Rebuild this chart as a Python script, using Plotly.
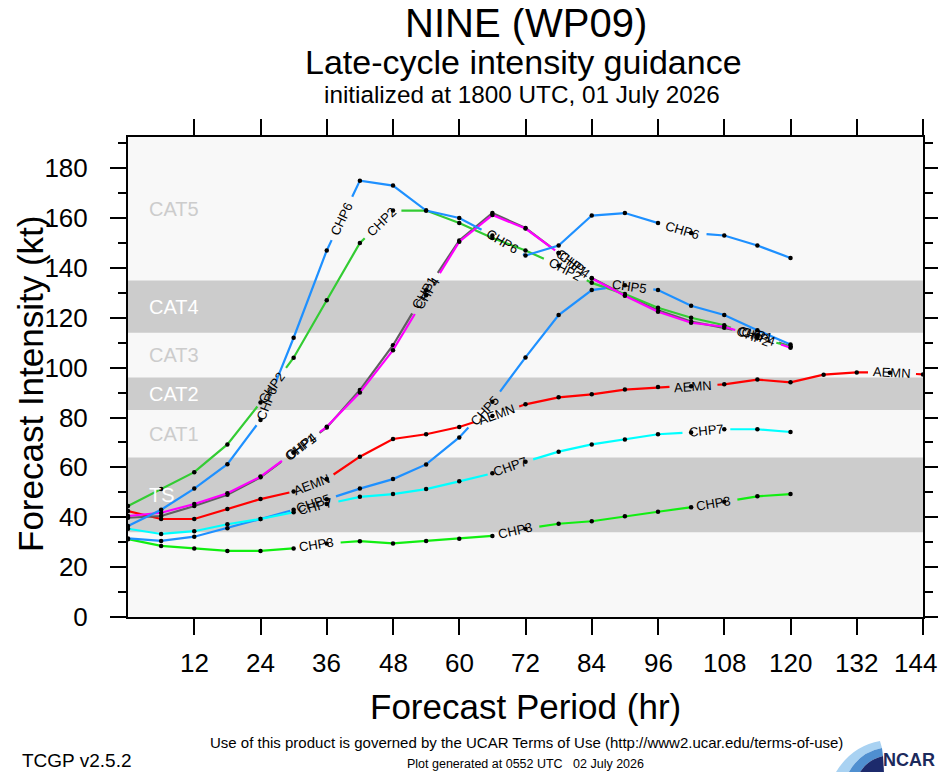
import math
import plotly.graph_objects as go

# forecast hours
hours = list(range(0, 121, 6))
aemn_hours = list(range(0, 145, 6))

# intensity guidance (kt)
chp1 = [39.8, 40.5, 44.5, 49, 56, 66, 76, 91, 109, 131, 151, 162, 156, 146, 136, 129, 123, 118.5, 116, 113, 108.5]
chp2 = [44.5, 51.3, 58.1, 69.2, 86, 104, 127, 150, 163, 163, 158, 152, 147, 141, 134, 129.5, 124, 120, 117, 112, 108.5]
chp3 = [31.2, 28.5, 27.5, 26.5, 26.5, 27.5, 29.5, 30.4, 29.5, 30.5, 31.4, 32.5, 35.4, 37.4, 38.4, 40.4, 42.2, 44, 46.2, 48.4, 49.3]
chp4 = [40.5, 41.8, 45.3, 49.6, 56.3, 66, 76.3, 90, 107, 129, 150.5, 161.2, 155.8, 146, 135.8, 128.8, 122.4, 118, 116.4, 112.5, 108]
chp5 = [31.5, 30.5, 32.2, 35.6, 39.3, 43, 47.2, 51.5, 55.3, 61.2, 72, 86.3, 104.1, 121.1, 131.1, 133, 131.1, 124.8, 121.1, 115, 109.3]
chp6 = [36.5, 43, 51.5, 61.3, 79, 112, 147, 175, 173, 163, 160, 153, 145, 149, 161, 162, 158, 154, 153, 149, 144]
chp7 = [35.4, 33.3, 34.4, 37.2, 39.3, 42, 45.3, 48.2, 49.3, 51.3, 54.4, 57.6, 62.3, 66.3, 69.2, 71.2, 73.3, 74, 75.3, 75.3, 74.2]
aemn = [42.5, 39.3, 39.3, 43.3, 47.3, 50.3, 55.3, 64.3, 71.4, 73.3, 76.2, 80.6, 85.3, 88.1, 89.3, 91.2, 92.2, 92.5,
        93.3, 95.2, 94.1, 97.2, 98.1, 98, 97.3]

# Saffir-Simpson bands
band_names = ["TS", "CAT1", "CAT2", "CAT3", "CAT4", "CAT5"]
band_lo = [34, 64, 83, 96, 114, 135]
band_hi = [64, 83, 96, 114, 135, 192.5]
band_shaded = [True, False, True, False, True, False]

x_ticks = list(range(12, 145, 12))
y_ticks = list(range(0, 181, 20))

FONT = "Liberation Sans, Arial, Helvetica, sans-serif"
# the page has an 8px body margin: keep the figure small enough that the
# page does not scroll, and give every position below in window pixels
PAGE = 8
VISIBLE_RIGHT = 938
W, H = 946 - PAGE, 780 - 2 * PAGE
L, R, T = 128 - PAGE, 23, 137 - PAGE
B = H - T - 480
PW, PH = W - L - R, H - T - B
X_MAX, Y_MAX = 144, 192.5
SX, SY = PW / X_MAX, PH / Y_MAX


def px_x(px):
    return (px - PAGE - L) / PW


def px_y(py):
    return (H - B - (py - PAGE)) / PH


def arc(xs, ys):
    cum = [0.0]
    for i in range(1, len(xs)):
        cum.append(cum[-1] + math.hypot((xs[i] - xs[i - 1]) * SX, (ys[i] - ys[i - 1]) * SY))
    return cum


def point_at(xs, ys, cum, s):
    for i in range(1, len(xs)):
        if s <= cum[i] or i == len(xs) - 1:
            d = cum[i] - cum[i - 1]
            t = (s - cum[i - 1]) / d if d > 0 else 0
            x = xs[i - 1] + t * (xs[i] - xs[i - 1])
            y = ys[i - 1] + t * (ys[i] - ys[i - 1])
            ang = math.degrees(math.atan2((ys[i] - ys[i - 1]) * SY, (xs[i] - xs[i - 1]) * SX))
            return x, y, ang


def gapped(xs, ys, cum, centers, half):
    cuts = set(cum)
    for c in centers:
        for d in (-half, half):
            if 0 < c + d < cum[-1]:
                cuts.add(c + d)
    cuts = sorted(cuts)
    gx, gy = [], []
    for a, b in zip(cuts[:-1], cuts[1:]):
        mid = (a + b) / 2
        if any(abs(mid - c) < half for c in centers):
            if gx and gx[-1] is not None:
                gx.append(None)
                gy.append(None)
            continue
        for s in (a, b):
            x, y, _ = point_at(xs, ys, cum, s)
            gx.append(x)
            gy.append(y)
    return gx, gy


series = [
    ("AEMN", aemn_hours, aemn, "#ff0000"),
    ("CHP1", hours, chp1, "#606060"),
    ("CHP2", hours, chp2, "#33cc33"),
    ("CHP3", hours, chp3, "#11ee11"),
    ("CHP4", hours, chp4, "#ff00ff"),
    ("CHP5", hours, chp5, "#1e90ff"),
    ("CHP6", hours, chp6, "#1e90ff"),
    ("CHP7", hours, chp7, "#00ffff"),
]

fig = go.Figure()
annotations = []
LABEL_START, LABEL_STEP, GAP = 190, 200, 24

for name, xs, ys, color in series:
    cum = arc(xs, ys)
    centers = []
    s = LABEL_START
    while s + GAP < cum[-1]:
        centers.append(s)
        s += LABEL_STEP
    gx, gy = gapped(xs, ys, cum, centers, GAP)
    fig.add_trace(go.Scatter(x=gx, y=gy, mode="lines", line=dict(color=color, width=2.2),
                             hoverinfo="skip", showlegend=False))
    fig.add_trace(go.Scatter(x=xs, y=ys, mode="markers", name=name,
                             marker=dict(color="black", size=4.5), showlegend=False))
    for c in centers:
        lx, ly, ang = point_at(xs, ys, cum, c)
        annotations.append(dict(x=lx, y=ly, xref="x", yref="y", text=name, showarrow=False,
                                textangle=-ang, font=dict(family=FONT, size=13, color="black")))

shapes = []
for name, lo, hi, shaded in zip(band_names, band_lo, band_hi, band_shaded):
    if shaded:
        shapes.append(dict(type="rect", xref="paper", yref="y", x0=0, x1=1, y0=lo, y1=hi,
                           fillcolor="#cccccc", line=dict(width=0), layer="below"))
    annotations.append(dict(x=3.4, y=(lo + hi) / 2, xref="x", yref="y", text=name, showarrow=False,
                            xanchor="left", font=dict(family=FONT, size=20,
                                                      color="white" if shaded else "#cccccc")))

# x tick labels drawn as text so the last one can be kept inside the window
for v in x_ticks:
    half = len(str(v)) * 0.556 * 26 / 2
    right = PAGE + L + v * SX + half
    annotations.append(dict(x=v, y=px_y(663), xref="x", yref="paper", text=str(v), showarrow=False,
                            xshift=min(0, VISIBLE_RIGHT - 1 - right), yanchor="middle",
                            font=dict(family=FONT, size=26, color="black")))


def swoosh(pts):
    out = []
    for cmd, coords in pts:
        vals = []
        for i in range(0, len(coords), 2):
            vals.append("%.4f,%.4f" % (px_x(coords[i]), px_y(coords[i + 1])))
        out.append(cmd + " ".join(vals))
    return " ".join(out) + " Z"


logo = [
    ([("M", [836, 772]), ("Q", [852, 746, 880, 741]), ("L", [882, 748]), ("Q", [860, 752, 849, 772])], "#a9d2f2"),
    ([("M", [849, 772]), ("Q", [860, 752, 882, 748]), ("L", [883, 756]), ("Q", [867, 760, 860, 772])], "#4f8fd0"),
    ([("M", [860, 772]), ("Q", [867, 760, 883, 756]), ("L", [884, 772])], "#1c2a6c"),
]
for pts, col in logo:
    shapes.append(dict(type="path", xref="paper", yref="paper", path=swoosh(pts),
                       fillcolor=col, line=dict(width=0)))


def txt(text, x, y, size, xanchor="center", angle=0, color="black"):
    return dict(text=text, x=x, y=y, xref="paper", yref="paper", showarrow=False,
                xanchor=xanchor, yanchor="middle", textangle=angle,
                font=dict(family=FONT, size=size, color=color))


annotations += [
    txt("NINE (WP09)", px_x(526), px_y(23), 40),
    txt("Late-cycle intensity guidance", px_x(523), px_y(62), 34),
    txt("initialized at 1800 UTC, 01 July 2026", px_x(522), px_y(94), 24.3),
    txt("Forecast Period (hr)", px_x(525), px_y(706), 35),
    txt("Forecast Intensity (kt)", px_x(30), px_y(384), 35, angle=-90),
    txt("Use of this product is governed by the UCAR Terms of Use (http://www2.ucar.edu/terms-of-use)",
        px_x(526), px_y(742), 15),
    txt("TCGP v2.5.2", px_x(20), px_y(760), 19, xanchor="left"),
    txt("Plot generated at 0552 UTC\u00a0\u00a0\u00a002 July 2026", px_x(525), px_y(764), 12.5),
    txt("<b>NCAR</b>", px_x(VISIBLE_RIGHT - 1), px_y(760), 18, xanchor="right", color="#1c2a5c"),
]

fig.update_layout(
    width=W, height=H,
    margin=dict(l=L, r=R, t=T, b=B, autoexpand=False),
    paper_bgcolor="white",
    plot_bgcolor="#f8f8f8",
    showlegend=False,
    shapes=shapes,
    annotations=annotations,
    font=dict(family=FONT, color="black"),
)
fig.update_xaxes(range=[0, X_MAX], tickvals=x_ticks, ticks="outside", ticklen=16, tickwidth=2,
                 tickcolor="black", showline=True, linewidth=2, linecolor="black", mirror="ticks",
                 showgrid=False, zeroline=False, showticklabels=False, automargin=False)
fig.update_yaxes(range=[0, Y_MAX], tickvals=y_ticks, ticks="outside", ticklen=16, tickwidth=2,
                 tickcolor="black", showline=True, linewidth=2, linecolor="black", mirror="ticks",
                 showgrid=False, zeroline=False, tickfont=dict(size=26), ticklabelstandoff=17,
                 automargin=False,
                 minor=dict(dtick=10, ticks="outside", ticklen=8, tickwidth=2, tickcolor="black",
                            showgrid=False))

fig.write_html("out.html")
